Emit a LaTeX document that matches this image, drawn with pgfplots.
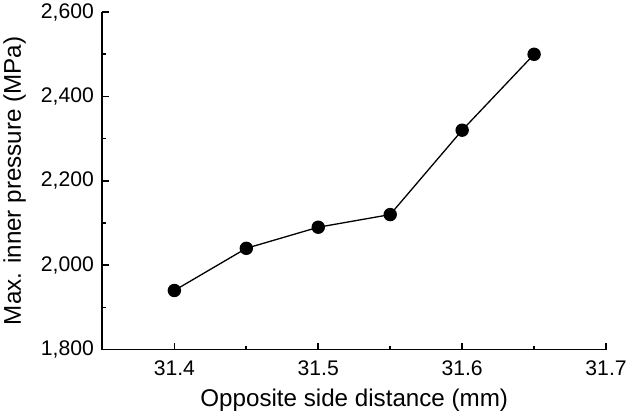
\documentclass[border=0pt]{standalone}
\usepackage{fontspec}
\setmainfont{Liberation Sans}
\usepackage{pgfplots}
\pgfplotsset{compat=1.18}

\begin{document}
\begin{tikzpicture}
\begin{axis}[
scale only axis,
width=500pt, height=335pt,
axis lines*=left,
axis line style={line width=1.8pt},
xmin=31.35, xmax=31.7,
ymin=1800, ymax=2600,
xtick={31.4,31.5,31.6,31.7},
ytick={1800,2000,2200,2400,2600},
minor x tick num=1,
minor y tick num=1,
tick align=inside,
major tick length=7pt,
minor tick length=4pt,
tick style={line width=1.6pt, black},
/pgf/number format/assume math mode=true,
/pgf/number format/1000 sep={,},
xticklabel style={/pgf/number format/fixed, /pgf/number format/precision=1, /pgf/number format/fixed zerofill, yshift=-8pt},
yticklabel style={xshift=-5pt},
ticklabel style={font=\fontsize{21}{25}\selectfont},
label style={font=\fontsize{24}{28}\selectfont},
xlabel={Opposite side distance (mm)},
ylabel={Max. inner pressure (MPa)},
xlabel style={yshift=-6pt},
ylabel style={yshift=8pt},
clip=false,
]
\addplot[black, line width=1.3pt, mark=*, mark size=6pt] coordinates {
(31.40,1940)
(31.45,2040)
(31.50,2090)
(31.55,2120)
(31.60,2320)
(31.65,2500)
};
\end{axis}
\end{tikzpicture}
\end{document}
